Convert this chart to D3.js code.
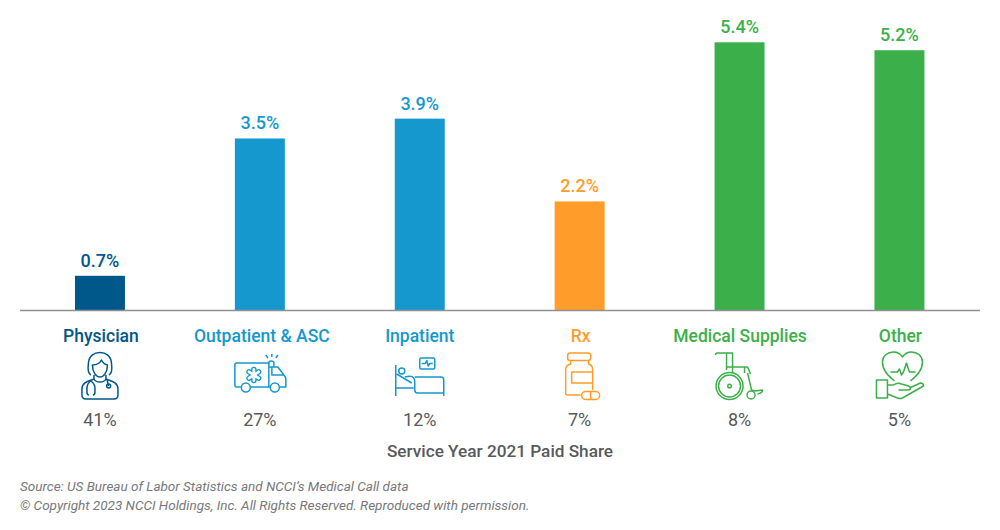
<!DOCTYPE html>
<html>
<head>
<meta charset="utf-8">
<script src="https://cdn.jsdelivr.net/npm/d3@7"></script>
<style>
    html, body { margin: 0; padding: 0; background: #fff; }
    text { font-family: Roboto, sans-serif; }
</style>
</head>
<body>
<div id="chart"></div>
<script>
const categories = ['Physician', 'Outpatient & ASC', 'Inpatient', 'Rx', 'Medical Supplies', 'Other'];
// unrounded bar values; the labels round them to one decimal
const changes = [0.69, 3.46, 3.86, 2.19, 5.4, 5.24];
const paidShares = [41, 27, 12, 7, 8, 5];
const colors = ['#00578A', '#1498CE', '#1498CE', '#FF9C2A', '#3BB04A', '#3BB04A'];
const axisTitle = 'Service Year 2021 Paid Share';
const sourceLines = [
    'Source: US Bureau of Labor Statistics and NCCI\u2019s Medical Call data',
    '\u00A9 Copyright 2023 NCCI Holdings, Inc. All Rights Reserved. Reproduced with permission.'
];

const width = 1000;
const height = 530;
const baseline = 310;
const grey = '#58595B';

const svg = d3.select('#chart').append('svg')
    .attr('width', width)
    .attr('height', height)
    .style('display', 'block');

const x = d3.scaleBand()
    .domain(categories)
    .range([20, 979.4])
    .paddingInner(0.6875)
    .paddingOuter(0.34375);

const y = d3.scaleLinear()
    .domain([0, 5.4])
    .range([baseline, 42.3]);

const centre = d => x(d) + x.bandwidth() / 2;
const rows = categories.map((c, i) => ({ name: c, change: changes[i], share: paidShares[i], color: colors[i] }));

// the category names are not quite centred under their bars in the original
const nameNudge = { 'Physician': 1, 'Outpatient & ASC': 2, 'Inpatient': 0, 'Rx': 1, 'Medical Supplies': 0.5, 'Other': 1 };

// bars
svg.selectAll('rect.bar').data(rows).join('rect')
    .attr('class', 'bar')
    .attr('x', d => x(d.name))
    .attr('y', d => y(d.change))
    .attr('width', x.bandwidth())
    .attr('height', d => y(0) - y(d.change))
    .attr('fill', d => d.color);

// value labels
svg.selectAll('text.value').data(rows).join('text')
    .attr('class', 'value')
    .attr('x', d => centre(d.name))
    .attr('y', d => y(d.change) - 9)
    .attr('text-anchor', 'middle')
    .attr('fill', d => d.color)
    .style('font-size', '18px')
    .style('font-weight', 500)
    .text(d => d.change.toFixed(1) + '%');

// baseline
svg.append('line')
    .attr('x1', 20).attr('x2', 980)
    .attr('y1', baseline + 0.5).attr('y2', baseline + 0.5)
    .attr('stroke', '#8f9092')
    .attr('stroke-width', 1.4);

// category names
svg.selectAll('text.cat').data(rows).join('text')
    .attr('class', 'cat')
    .attr('x', d => centre(d.name) + nameNudge[d.name])
    .attr('y', 342)
    .attr('text-anchor', 'middle')
    .attr('fill', d => d.color)
    .style('font-size', '17.5px')
    .style('font-weight', 500)
    .text(d => d.name);

// share labels
svg.selectAll('text.share').data(rows).join('text')
    .attr('class', 'share')
    .attr('x', d => centre(d.name))
    .attr('y', 425.5)
    .attr('text-anchor', 'middle')
    .attr('fill', grey)
    .style('font-size', '18px')
    .text(d => d.share + '%');

svg.append('text')
    .attr('x', 500)
    .attr('y', 457)
    .attr('text-anchor', 'middle')
    .attr('fill', grey)
    .style('font-size', '17.2px')
    .style('font-weight', 500)
    .text(axisTitle);

svg.selectAll('text.source').data(sourceLines).join('text')
    .attr('class', 'source')
    .attr('x', 20)
    .attr('y', (d, i) => 491 + i * 19)
    .attr('fill', '#77787b')
    .style('font-size', '13.5px')
    .style('font-style', 'italic')
    .text(d => d);

// icons, drawn around (0,0) in their own little coordinate space
function strokePath(g, d) {
    return g.append('path').attr('d', d);
}

const iconDrawers = {
    'Physician': g => {
        strokePath(g, 'M-9,-1C-13,-3 -12,-9 -11.5,-13C-11,-20 -6,-23.5 0,-23.5C6,-23.5 11,-20 11.5,-13C12,-9 13,-3 9,-1');
        strokePath(g, 'M-7.5,-11C-3,-11 0,-13 1.5,-16C3,-13 5,-11.5 7.5,-11C7.5,-4 4,1 0,1C-4,1 -7.5,-4 -7.5,-11Z');
        strokePath(g, 'M-6,-1V3C-4,7 4,7 6,3V-1');
        strokePath(g, 'M-6,3C-11,5 -18,6 -18,13V19Q-18,23 -14,23H14Q18,23 18,19V13C18,6 11,5 6,3');
        strokePath(g, 'M-9,4.5Q-13,8 -13,12V16Q-13,19 -11,19M-9,5Q-5,8 -5,12V16Q-5,19 -7,19');
        strokePath(g, 'M7,3L8.5,10');
        g.append('circle').attr('cx', 8.7).attr('cy', 10).attr('r', 2);
    },
    'Outpatient & ASC': g => {
        strokePath(g, 'M-19,11H-23Q-25,11 -25,9V-11Q-25,-13 -23,-13H9V11H-9M9,11H10M20,11H26V3Q26,1 24,-1L18,-9H9');
        strokePath(g, 'M12,-9V-1H24');
        g.append('circle').attr('cx', -14).attr('cy', 11.5).attr('r', 4.5);
        g.append('circle').attr('cx', 15).attr('cy', 11.5).attr('r', 4.5);
        strokePath(g, 'M9,-13V-14Q11,-16 14,-14V-9');
        strokePath(g, 'M12,-22V-19M6,-21L8,-18M18,-21L16,-18');
        // cross: coloured strokes with a white core leave just an outline
        const arms = 'M-6,-6.5V4.5M-10.8,-4.2L-1.2,2.2M-10.8,2.2L-1.2,-4.2';
        strokePath(g, arms).attr('stroke-width', 5.5).attr('stroke-linecap', 'round');
        strokePath(g, arms).attr('stroke', '#fff').attr('stroke-width', 2.8).attr('stroke-linecap', 'round');
    },
    'Inpatient': g => {
        strokePath(g, 'M-24,-11V20M-24,12H-6M24,20V4Q24,1 21,1H-5M-23,-2L-8,7');
        strokePath(g, 'M-15,1Q-8,-1 -6,2Q-5,4 -5,6V14Q-5,17 -2,17H24');
        g.append('circle').attr('cx', -18).attr('cy', -5).attr('r', 3);
        g.append('rect').attr('x', 0).attr('y', -18).attr('width', 15).attr('height', 11).attr('rx', 1.5);
        strokePath(g, 'M2,-12.5H5.5L7,-15.5L8.5,-10L10,-12.5H13');
    },
    'Rx': g => {
        g.append('rect').attr('x', -12).attr('y', -23).attr('width', 23).attr('height', 7.5).attr('rx', 2.5);
        strokePath(g, 'M-9,-15.5V-12Q-14,-11 -14,-6V17Q-14,19 -12,19H1M9,-15.5V-12Q13,-11 13,-6V14');
        strokePath(g, 'M13,-4H-8V7H13');
        g.append('rect').attr('x', 2).attr('y', 15.5).attr('width', 18).attr('height', 8).attr('rx', 4);
        strokePath(g, 'M11,15.5V23.5');
    },
    'Medical Supplies': g => {
        strokePath(g, 'M-24,-21Q-24,-23 -22,-23H-7V-3M-13,-23V-6M-13,-9H8L11,-2M5,-9V-3M8,-3L12,14L16,15L23,14Q23,17 18,18');
        g.append('circle').attr('cx', -10).attr('cy', 10).attr('r', 13.5);
        g.append('circle').attr('cx', -10).attr('cy', 10).attr('r', 11);
        g.append('circle').attr('cx', -10).attr('cy', 10).attr('r', 1.8);
        g.append('circle').attr('cx', 11.5).attr('cy', 19).attr('r', 4);
    },
    'Other': g => {
        strokePath(g, 'M-5,5C-12,-1 -17,-6 -17,-14C-17,-20 -12,-24 -6,-24C-2,-24 1,-22 3,-19C5,-22 8,-24 12,-24C18,-24 23,-20 23,-14C23,-6 18,-1 11,5');
        strokePath(g, 'M-9,-4H-2L0,-7L2,-1L4,-4L7,-13L10,-4H16');
        g.append('rect').attr('x', -23).attr('y', 4).attr('width', 11).attr('height', 18);
        strokePath(g, 'M-12,9H-6Q-2,6 2,8Q6,9 9,10Q12,11 11,13Q10,14 8,14H-1M10,12L21,7Q24,7 24,10L3,22Q1,23 -2,22L-12,18');
    }
};

rows.forEach(d => {
    const g = svg.append('g')
        .attr('class', 'icon')
        .attr('transform', `translate(${centre(d.name)},376)`)
        .attr('fill', 'none')
        .attr('stroke', d.color)
        .attr('stroke-width', 1.5)
        .attr('stroke-linejoin', 'round');
    iconDrawers[d.name](g);
});
</script>
</body>
</html>
